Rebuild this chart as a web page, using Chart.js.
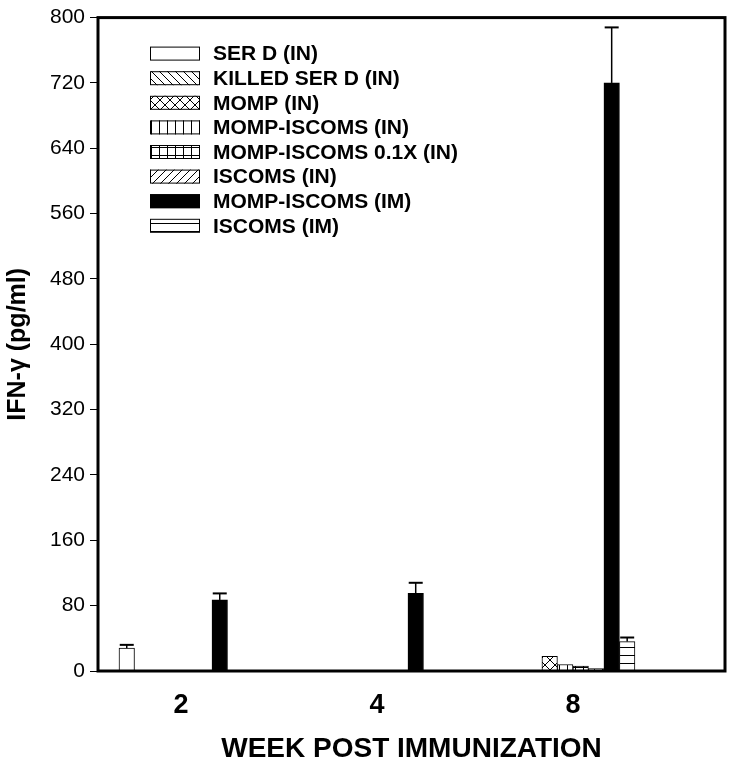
<!DOCTYPE html>
<html>
<head>
<meta charset="utf-8">
<title>IFN-gamma by week post immunization</title>
<script src="https://cdn.jsdelivr.net/npm/chart.js@4.4.1/dist/chart.umd.min.js"></script>
<style>
  html, body { margin: 0; padding: 0; background: #fff; }
  #wrap { width: 736px; height: 771px; }
</style>
</head>
<body>
<div id="wrap"><canvas id="myChart" width="736" height="771"></canvas></div>
<script>
// week groups (x axis)
const weeks = ['2', '4', '8'];
const yTicks = [0, 80, 160, 240, 320, 400, 480, 560, 640, 720, 800];

// IFN-gamma (pg/ml) per group
const serD = [28, 0, 0];
const serDErr = [4, 0, 0];
const killedSerD = [0, 0, 0];
const momp = [0, 0, 18];
const mompIscomsIN = [0, 0, 8];
const mompIscoms01 = [0, 0, 6];
const iscomsIN = [0, 0, 3];
const mompIscomsIM = [87, 95, 720];
const mompIscomsIMErr = [8, 13, 68];
const iscomsIM = [0, 0, 36];
const iscomsIMErr = [0, 0, 5];

const FONT = '"Liberation Sans", Arial, sans-serif';

/**
 * Build a black-on-white hatch pattern
 * @param {string} kind - hatch type
 */
function makePattern(kind) {
    const size = kind === 'cross' ? 10 : 8;
    const c = document.createElement('canvas');
    c.width = size;
    c.height = size;
    const g = c.getContext('2d');
    g.fillStyle = '#fff';
    g.fillRect(0, 0, size, size);
    g.strokeStyle = '#000';
    g.lineWidth = 1;
    g.beginPath();
    if (kind === 'back') {          // "\" lines
        g.moveTo(0, 0); g.lineTo(size, size);
        g.moveTo(-size, 0); g.lineTo(0, size);
        g.moveTo(size, -size); g.lineTo(2 * size, size);
    } else if (kind === 'fwd') {    // "/" lines
        g.moveTo(0, size); g.lineTo(size, 0);
        g.moveTo(-size, size); g.lineTo(0, 0);
        g.moveTo(size, size); g.lineTo(2 * size, 0);
    } else if (kind === 'cross') {
        g.moveTo(0, 0); g.lineTo(size, size);
        g.moveTo(0, size); g.lineTo(size, 0);
    } else if (kind === 'vert') {
        g.moveTo(size - 0.5, 0); g.lineTo(size - 0.5, size);
    } else if (kind === 'grid') {
        g.moveTo(size - 0.5, 0); g.lineTo(size - 0.5, size);
        g.moveTo(0, size / 2 - 0.5); g.lineTo(size, size / 2 - 0.5);
    } else if (kind === 'horiz') {
        g.moveTo(0, size - 0.5); g.lineTo(size, size - 0.5);
    }
    g.stroke();
    return g.createPattern(c, 'repeat');
}

function toPoints(values) {
    return values.map((v, i) => ({ x: i, y: v }));
}

const series = [
    { label: 'SER D (IN)', data: serD, err: serDErr, fill: '#fff' },
    { label: 'KILLED SER D (IN)', data: killedSerD, fill: makePattern('back') },
    { label: 'MOMP (IN)', data: momp, fill: makePattern('cross') },
    { label: 'MOMP-ISCOMS (IN)', data: mompIscomsIN, fill: makePattern('vert') },
    { label: 'MOMP-ISCOMS 0.1X (IN)', data: mompIscoms01, fill: makePattern('grid') },
    { label: 'ISCOMS (IN)', data: iscomsIN, fill: makePattern('fwd') },
    { label: 'MOMP-ISCOMS (IM)', data: mompIscomsIM, err: mompIscomsIMErr, fill: '#000' },
    { label: 'ISCOMS (IM)', data: iscomsIM, err: iscomsIMErr, fill: makePattern('horiz') }
];

// error bars on top of bars
const errorBarPlugin = {
    id: 'errorBars',
    afterDatasetsDraw(chart) {
        const ctx = chart.ctx;
        const yScale = chart.scales.y;
        chart.data.datasets.forEach((ds, di) => {
            if (!ds.errors) return;
            const meta = chart.getDatasetMeta(di);
            meta.data.forEach((bar, i) => {
                const e = ds.errors[i];
                if (!e) return;
                const yTop = yScale.getPixelForValue(ds.data[i].y + e);
                ctx.save();
                ctx.strokeStyle = '#000';
                ctx.lineWidth = 1.5;
                ctx.beginPath();
                ctx.moveTo(bar.x, bar.y);
                ctx.lineTo(bar.x, yTop);
                ctx.stroke();
                ctx.lineWidth = 2;
                ctx.beginPath();
                ctx.moveTo(bar.x - 7, yTop);
                ctx.lineTo(bar.x + 7, yTop);
                ctx.stroke();
                ctx.restore();
            });
        });
    }
};

// frame around plot area
const framePlugin = {
    id: 'frame',
    afterDraw(chart) {
        const { ctx, chartArea: a } = chart;
        ctx.save();
        ctx.strokeStyle = '#000';
        ctx.lineWidth = 3;
        ctx.strokeRect(a.left, a.top, a.right - a.left, a.bottom - a.top);
        ctx.restore();
    }
};

// legend block inside the plot area
const boxLegendPlugin = {
    id: 'boxLegend',
    afterDraw(chart) {
        const ctx = chart.ctx;
        const a = chart.chartArea;
        const x0 = a.left + 52;
        const y0 = a.top + 36;
        const step = 24.6;
        ctx.save();
        ctx.font = 'bold 21px ' + FONT;
        ctx.textBaseline = 'middle';
        chart.data.datasets.forEach((ds, i) => {
            const y = y0 + i * step;
            ctx.fillStyle = ds.backgroundColor;
            ctx.fillRect(x0, y - 7, 50, 14);
            ctx.strokeStyle = '#000';
            ctx.lineWidth = 1;
            ctx.strokeRect(x0 + 0.5, y - 6.5, 49, 13);
            ctx.fillStyle = '#000';
            ctx.fillText(ds.label, x0 + 63, y + 1);
        });
        ctx.restore();
    }
};

const ctx = document.getElementById('myChart').getContext('2d');
new Chart(ctx, {
    type: 'bar',
    data: {
        datasets: series.map(s => ({
            label: s.label,
            data: toPoints(s.data),
            errors: s.err || null,
            backgroundColor: s.fill,
            borderColor: '#000',
            borderWidth: 1,
            barThickness: 15.5,
            borderSkipped: 'bottom'
        }))
    },
    options: {
        responsive: false,
        animation: false,
        layout: { padding: { top: 17, right: 11, left: 0, bottom: 0 } },
        plugins: {
            legend: { display: false },
            tooltip: { enabled: false }
        },
        scales: {
            x: {
                type: 'linear',
                offset: false,
                min: -0.4235,
                max: 2.776,
                afterBuildTicks: axis => {
                    axis.ticks = weeks.map((w, i) => ({ value: i }));
                },
                afterFit: axis => { axis.height = 100; },
                grid: { display: false, drawTicks: false },
                border: { display: false },
                ticks: {
                    padding: 18,
                    color: '#000',
                    font: { family: FONT, size: 27, weight: 'bold' },
                    callback: v => weeks[v]
                },
                title: {
                    display: true,
                    text: 'WEEK POST IMMUNIZATION',
                    color: '#000',
                    font: { family: FONT, size: 28, weight: 'bold' },
                    padding: { top: 0, bottom: 5 }
                }
            },
            y: {
                min: 0,
                max: 800,
                afterBuildTicks: axis => {
                    axis.ticks = yTicks.map(v => ({ value: v }));
                },
                afterFit: axis => { axis.width = 98; },
                grid: {
                    drawOnChartArea: false,
                    drawTicks: true,
                    tickLength: 8,
                    color: '#000',
                    lineWidth: 1
                },
                border: { display: false },
                ticks: {
                    padding: 5,
                    color: '#000',
                    font: { family: FONT, size: 21 }
                },
                title: {
                    display: true,
                    text: 'IFN-\u03B3 (pg/ml)',
                    color: '#000',
                    font: { family: FONT, size: 25, weight: 'bold' },
                    padding: { top: 3, bottom: 0 }
                }
            }
        }
    },
    plugins: [errorBarPlugin, framePlugin, boxLegendPlugin]
});
</script>
</body>
</html>
